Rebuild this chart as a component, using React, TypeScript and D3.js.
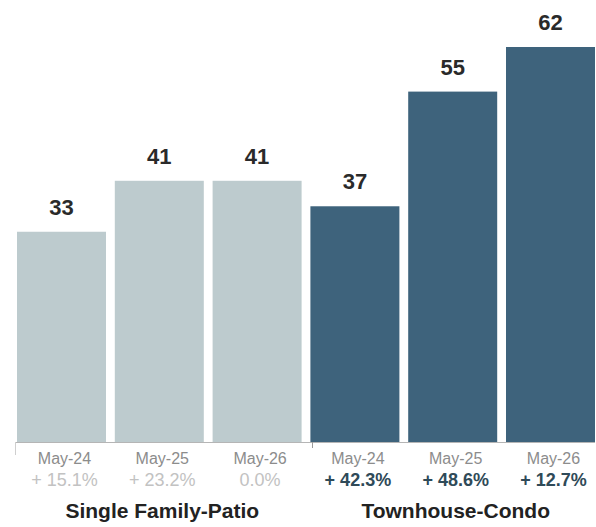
import React from 'react';
import * as d3 from 'd3';

const months = ['May-24', 'May-25', 'May-26'];
const groups = ['Single Family-Patio', 'Townhouse-Condo'];
const singleFamilyValues = [33, 41, 41];
const townhouseValues = [37, 55, 62];
const singleFamilyChanges = ['+ 15.1%', '+ 23.2%', '0.0%'];
const townhouseChanges = ['+ 42.3%', '+ 48.6%', '+ 12.7%'];

const W = 596;
const H = 527;
const FONT = 'Liberation Sans, Arial, Helvetica, sans-serif';

export default function App() {
  const rows = [
    ...months.map((m, i) => ({ key: `sf-${i}`, month: m, value: singleFamilyValues[i], change: singleFamilyChanges[i], group: 0 })),
    ...months.map((m, i) => ({ key: `tc-${i}`, month: m, value: townhouseValues[i], change: townhouseChanges[i], group: 1 })),
  ];
  const x = d3.scaleBand<string>().domain(rows.map(r => r.key)).range([17, 595]).paddingInner(0.09).paddingOuter(0);
  const y = d3.scaleLinear().domain([0, 62]).range([442, 47]);
  const bw = x.bandwidth();
  const colors = ['#bdcbce', '#3e637c'];
  const changeColors = ['#c2c2c2', '#2f4a58'];

  const groupCenter = (g: number) => {
    const ks = rows.filter(r => r.group === g).map(r => r.key);
    const a = x(ks[0])!;
    const b = x(ks[ks.length - 1])! + bw;
    return (a + b) / 2;
  };

  return (
    <svg width={W} height={H} style={{ position: 'absolute', left: 0, top: 0, background: '#fff' }} fontFamily={FONT}>
      {rows.map(r => (
        <g key={r.key}>
          <rect x={x(r.key)} y={y(r.value)} width={bw} height={y(0) - y(r.value)} fill={colors[r.group]} />
          <text x={x(r.key)! + bw / 2} y={y(r.value) - 17} textAnchor="middle" fontSize={22} fontWeight="bold" fill="#2a2a2a">{r.value}</text>
          <text x={x(r.key)! + bw / 2 + 3} y={464} textAnchor="middle" fontSize={16} fill="#8c8c8c">{r.month}</text>
          <text x={x(r.key)! + bw / 2 + 3} y={486} textAnchor="middle" fontSize={18} fontWeight={r.group === 1 ? 'bold' : 'normal'} fill={changeColors[r.group]}>{r.change}</text>
        </g>
      ))}
      <line x1={15} x2={595} y1={442.5} y2={442.5} stroke="#b5b5b5" strokeWidth={1} />
      <line x1={15.5} x2={15.5} y1={442} y2={455} stroke="#cfcfcf" strokeWidth={1} />
      <line x1={312.5} x2={312.5} y1={442} y2={448} stroke="#9a9a9a" strokeWidth={1} />
      {groups.map((g, i) => (
        <text key={g} x={groupCenter(i) + 3} y={518} textAnchor="middle" fontSize={21} fontWeight="bold" fill="#222">{g}</text>
      ))}
    </svg>
  );
}
